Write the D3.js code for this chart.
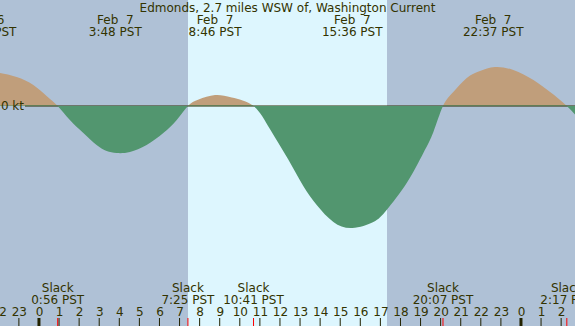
<!DOCTYPE html>
<html><head><meta charset="utf-8">
<script src="https://cdn.jsdelivr.net/npm/d3@7"></script>
<style>
html,body{margin:0;padding:0;background:#afc1d6;}
svg{display:block;}
text{font-family:"DejaVu Sans",sans-serif;font-size:12px;fill:#333300;}
</style></head>
<body>
<script>
// hours measured from Feb 7 00:00 PST; current in knots (flood +, ebb -)
const hours = [-3.6, -2.63, -1.94, -1.11, -0.28, 0.38, 0.933, 1.54, 2.21, 2.87, 3.37, 3.87, 4.53, 5.36, 6.19, 6.86, 7.417,
  7.95, 8.767, 9.6, 10.683, 11.5, 12.4, 13.16, 13.83, 14.66, 15.6, 16.65, 17.31, 18.31, 19.14, 19.64, 20.117,
  20.63, 21.3, 21.96, 22.7, 23.62, 24.62, 25.45, 26.283, 27.2];
const knots = [0.30, 0.34, 0.33, 0.29, 0.21, 0.10, 0, -0.14, -0.27, -0.39, -0.45, -0.47, -0.46, -0.39, -0.27, -0.14, 0,
  0.065, 0.11, 0.085, 0, -0.23, -0.53, -0.80, -0.99, -1.16, -1.22, -1.16, -1.04, -0.77, -0.47, -0.26, 0,
  0.14, 0.28, 0.35, 0.39, 0.36, 0.26, 0.14, 0, -0.2];

const extremeHours = [-2.63, 3.8, 8.767, 15.6, 22.617];
const extremeDates = ["Feb  6", "Feb  7", "Feb  7", "Feb  7", "Feb  7"];
const extremeTimes = ["21:22 PST", "3:48 PST", "8:46 PST", "15:36 PST", "22:37 PST"];

const slackHours = [0.933, 7.417, 10.683, 20.117, 26.283];
const slackTimes = ["0:56 PST", "7:25 PST", "10:41 PST", "20:07 PST", "2:17 PST"];

const dayStart = 7.42, dayEnd = 17.33;
const hourTicks = d3.range(-2, 27);
const title = "Edmonds, 2.7 miles WSW of, Washington Current";

const W = 575, H = 326;
const x = d3.scaleLinear().domain([-1.94, 26.69]).range([0, W]);
const y = d3.scaleLinear().domain([0, 1]).range([106, 6]);

const svg = d3.select("body").append("svg").attr("width", W).attr("height", H);

svg.append("rect").attr("x",0).attr("y",0).attr("width",W).attr("height",H).attr("fill","#afc1d6");
svg.append("rect").attr("x",x(dayStart)).attr("y",0).attr("width",x(dayEnd)-x(dayStart)).attr("height",H).attr("fill","#ddf6fe");

const pts = hours.map((h,i)=>[h,knots[i]]);
const area = d3.area().x(d=>x(d[0])).y0(y(0)).y1(d=>y(d[1])).curve(d3.curveNatural);

const defs = svg.append("defs");
defs.append("clipPath").attr("id","above").append("rect").attr("x",0).attr("y",0).attr("width",W).attr("height",y(0));
defs.append("clipPath").attr("id","below").append("rect").attr("x",0).attr("y",y(0)-0.5).attr("width",W).attr("height",H);

svg.append("path").attr("d",area(pts)).attr("fill","#c09e7b").attr("clip-path","url(#above)");
svg.append("line").attr("x1",25).attr("x2",W).attr("y1",y(0)).attr("y2",y(0)).attr("stroke","#2b2b00").attr("stroke-width",1);
svg.append("path").attr("d",area(pts)).attr("fill","#52966f").attr("clip-path","url(#below)");

svg.append("text").attr("x",24).attr("y",y(0)+4).attr("text-anchor","end").text("0 kt");

svg.append("text").attr("x",W/2).attr("y",12).attr("text-anchor","middle").text(title);

const ex = svg.selectAll("g.ext").data(extremeHours).enter().append("g");
ex.append("text").attr("x",d=>x(d)).attr("y",24).attr("text-anchor","middle").style("white-space","pre").text((d,i)=>extremeDates[i]);
ex.append("text").attr("x",d=>x(d)).attr("y",36).attr("text-anchor","middle").text((d,i)=>extremeTimes[i]);

const sl = svg.selectAll("g.sl").data(slackHours).enter().append("g");
sl.append("text").attr("x",d=>x(d)).attr("y",292).attr("text-anchor","middle").text("Slack");
sl.append("text").attr("x",d=>x(d)).attr("y",304).attr("text-anchor","middle").text((d,i)=>slackTimes[i]);

// hour axis
const axis = d3.axisBottom(x).tickValues(hourTicks).tickSize(0)
  .tickFormat(h=>String(((h%24)+24)%24));
const ag = svg.append("g").attr("transform","translate(0,304)").call(axis);
ag.select(".domain").remove();
ag.selectAll("text").attr("dy","0.71em").attr("y",3).style("font-size","12px").style("font-family","DejaVu Sans").attr("fill","#333300");

svg.selectAll("line.ht").data(hourTicks).enter().append("line")
  .attr("x1",d=>x(d)).attr("x2",d=>x(d)).attr("y1",318).attr("y2",H)
  .attr("stroke","#222200").attr("stroke-width",d=>((d%24)===0)?3:1);
svg.selectAll("line.st").data(slackHours).enter().append("line")
  .attr("x1",d=>x(d)).attr("x2",d=>x(d)).attr("y1",318).attr("y2",H)
  .attr("stroke","#ff0000").attr("stroke-width",1);
</script>
</body></html>
